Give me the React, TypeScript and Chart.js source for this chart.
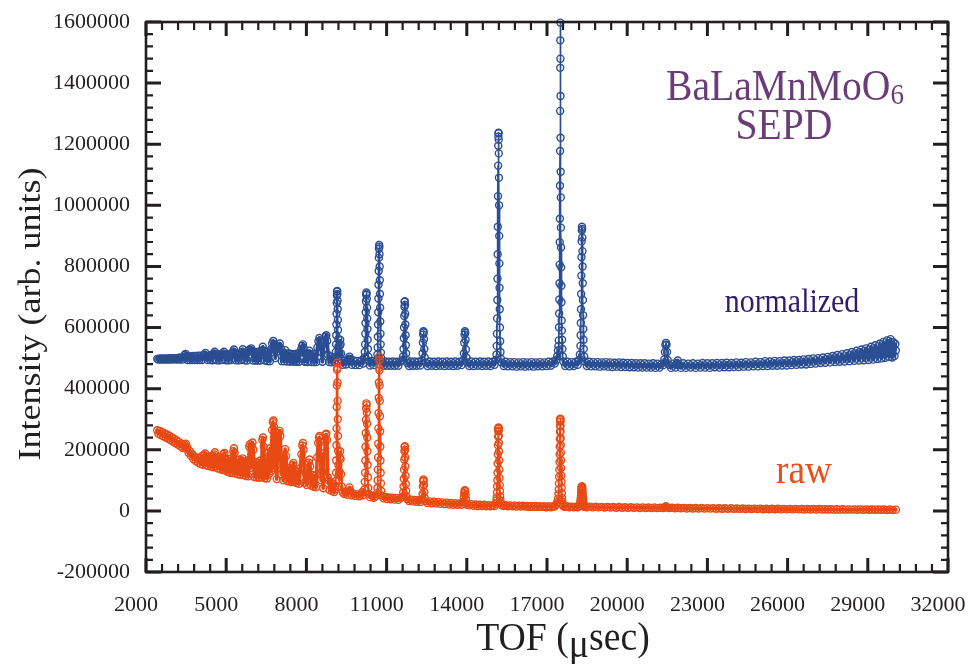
import { useEffect, useRef } from "react";
import { Chart, registerables } from "chart.js";

Chart.register(...registerables);

// Axis ticks
const tofTicks = [2000, 5000, 8000, 11000, 14000, 17000, 20000, 23000, 26000, 29000, 32000];
const intensityTicks = [-200000, 0, 200000, 400000, 600000, 800000, 1000000, 1200000, 1400000, 1600000];
const TOF_MINOR_STEP = 600;
const INTENSITY_MINOR_STEP = 40000;

// Text
const sampleFormula = "BaLaMnMoO";
const sampleSubscript = "6";
const instrumentName = "SEPD";
const normalizedLabel = "normalized";
const rawLabel = "raw";
const xTitleParts = ["TOF (", "\u03bc", "sec)"];
const yTitle = "Intensity (arb. units)";

// Normalized spectrum, [TOF (usec), intensity]
const normalizedLowTof: [number, number][] = [
  [2420, 497000], [2465, 495000], [2510, 499000], [2555, 495000], [2600, 499000], [2645, 495000], [2690, 499000], [2735, 495000],
  [2780, 499000], [2825, 495000], [2870, 500000], [2915, 495000], [2960, 500000], [3005, 495000], [3050, 500000], [3095, 496000],
  [3140, 500000], [3185, 495000], [3230, 501000], [3275, 495000], [3320, 502000], [3365, 495000], [3410, 504000], [3445, 510000],
  [3480, 514000], [3515, 506000], [3550, 494000], [3595, 505000], [3640, 494000], [3685, 506000], [3730, 494000], [3775, 507000],
  [3820, 494000], [3865, 507000], [3910, 494000], [3955, 508000], [4000, 494000], [4045, 508000], [4090, 494000], [4135, 509000],
  [4180, 512000], [4225, 517000], [4265, 506000], [4310, 494000], [4355, 509000], [4400, 494000], [4445, 510000], [4490, 493000],
  [4535, 515000], [4570, 521000], [4605, 512000], [4650, 493000], [4695, 512000], [4740, 493000], [4785, 512000], [4830, 494000],
  [4875, 515000], [4915, 521000], [4950, 512000], [4995, 493000], [5040, 512000], [5085, 493000], [5130, 513000], [5175, 494000],
  [5220, 516000], [5260, 522000], [5290, 528000], [5320, 516000], [5365, 493000], [5410, 513000], [5455, 493000], [5500, 514000],
  [5545, 494000], [5590, 520000], [5620, 529000], [5650, 518000], [5695, 493000], [5740, 518000], [5785, 492000], [5830, 520000],
  [5870, 528000], [5905, 526000], [5935, 532000], [5970, 524000], [6010, 492000], [6055, 520000], [6100, 492000], [6145, 520000],
  [6190, 492000], [6235, 521000], [6280, 492000], [6320, 525000], [6370, 537000], [6410, 524000], [6455, 492000], [6500, 520000],
  [6545, 490000], [6590, 522000], [6635, 490000], [6680, 530000], [6720, 548000], [6760, 556000], [6795, 546000], [6835, 500000],
  [6880, 520000], [6925, 530000], [6965, 540000], [7005, 548000], [7040, 532000], [7080, 490000], [7125, 518000], [7165, 490000],
  [7205, 526000], [7245, 512000], [7290, 489000], [7335, 516000], [7380, 489000], [7425, 514000], [7465, 489000], [7500, 513000],
  [7540, 489000], [7585, 514000], [7630, 488000], [7675, 515000], [7720, 488000], [7765, 518000], [7805, 530000], [7840, 540000],
  [7870, 545000], [7900, 532000], [7940, 488000], [7985, 512000], [8030, 487000], [8075, 515000], [8110, 524000], [8145, 512000],
  [8190, 487000], [8235, 513000], [8280, 487000], [8325, 514000], [8370, 487000], [8410, 535000], [8450, 555000], [8485, 566000],
  [8520, 558000], [8560, 520000], [8600, 488000], [8640, 530000], [8680, 555000], [8715, 570000], [8745, 575000], [8775, 556000],
  [8815, 510000], [8855, 487000], [8900, 505000], [8945, 486000], [8990, 500000], [9040, 487000],
];

const normalizedMidTof: [number, number][] = [
  [9070, 492000], [9090, 505000], [9100, 520000], [9108, 545000], [9115, 575000], [9122, 610000], [9128, 645000], [9134, 680000],
  [9140, 705000], [9146, 718000], [9152, 720000], [9158, 710000], [9164, 688000], [9170, 660000], [9176, 625000], [9182, 592000],
  [9190, 562000], [9198, 538000], [9208, 520000], [9220, 506000], [9235, 515000], [9250, 540000], [9265, 560000], [9280, 545000],
  [9295, 515000], [9320, 492000],
  [9360, 478000], [9420, 492000], [9480, 479000], [9540, 493000], [9580, 498000], [9610, 505000], [9640, 497000], [9700, 478000],
  [9770, 492000], [9840, 477000], [9910, 491000], [9980, 477000], [10040, 490000], [10080, 494000], [10120, 482000], [10170, 502000],
  [10185, 520000], [10195, 545000], [10205, 580000], [10213, 615000], [10220, 650000], [10228, 685000], [10236, 707000], [10244, 715000],
  [10252, 711000], [10260, 694000], [10268, 665000], [10276, 630000], [10284, 595000], [10292, 560000], [10302, 530000], [10315, 505000],
  [10335, 490000],
  [10380, 476000], [10450, 491000], [10520, 477000], [10590, 490000], [10640, 496000],
  [10655, 512000], [10665, 535000], [10673, 570000], [10680, 610000], [10686, 650000], [10692, 695000], [10698, 740000], [10704, 785000],
  [10710, 828000], [10716, 858000], [10722, 870000], [10728, 864000], [10734, 840000], [10740, 800000], [10746, 755000], [10752, 710000],
  [10758, 665000], [10764, 620000], [10771, 580000], [10779, 545000], [10788, 518000], [10800, 500000], [10820, 487000],
  [10880, 475000], [10950, 489000], [11020, 475000], [11090, 488000], [11160, 475000], [11230, 489000], [11300, 475000], [11370, 488000],
  [11440, 475000], [11510, 489000], [11580, 492000], [11620, 506000],
  [11635, 530000], [11645, 565000], [11653, 600000], [11661, 638000], [11668, 668000], [11675, 684000], [11682, 686000], [11689, 674000],
  [11696, 645000], [11703, 610000], [11711, 575000], [11720, 542000], [11730, 515000], [11745, 495000], [11770, 484000],
  [11840, 474000], [11910, 489000], [11980, 475000], [12050, 489000], [12120, 475000], [12190, 488000], [12260, 476000], [12320, 492000],
  [12345, 515000],
  [12358, 550000], [12368, 577000], [12378, 588000], [12388, 584000], [12398, 562000], [12410, 530000], [12425, 502000], [12450, 486000],
  [12530, 474000], [12610, 489000], [12690, 475000], [12770, 488000], [12850, 474000], [12930, 489000], [13010, 475000], [13090, 488000],
  [13170, 474000], [13250, 489000], [13330, 475000], [13410, 488000], [13490, 474000], [13570, 489000], [13650, 475000], [13730, 488000],
  [13800, 477000], [13860, 493000], [13890, 515000],
  [13905, 550000], [13918, 577000], [13930, 588000], [13942, 583000], [13955, 560000], [13968, 528000], [13985, 502000], [14010, 486000],
  [14090, 474000], [14170, 489000], [14250, 474000], [14330, 488000], [14410, 475000], [14490, 489000], [14570, 474000], [14650, 488000],
  [14730, 475000], [14810, 489000], [14890, 474000], [14970, 488000], [15040, 478000], [15090, 494000], [15110, 512000],
  [15120, 540000], [15128, 580000], [15135, 630000], [15142, 690000], [15148, 760000], [15154, 840000], [15160, 930000], [15166, 1030000],
  [15172, 1130000], [15177, 1195000], [15181, 1225000], [15185, 1238000], [15189, 1236000], [15193, 1215000], [15197, 1170000], [15202, 1090000],
  [15207, 1000000], [15213, 900000], [15219, 810000], [15225, 730000], [15232, 660000], [15240, 600000], [15249, 555000], [15260, 520000],
  [15275, 498000], [15300, 486000],
  [15380, 474000], [15460, 488000], [15540, 473000], [15620, 487000], [15700, 473000], [15780, 487000], [15860, 472000], [15940, 486000],
  [16020, 473000], [16100, 487000], [16180, 472000], [16260, 486000], [16340, 473000], [16420, 487000], [16500, 472000], [16580, 486000],
  [16660, 473000], [16740, 487000], [16820, 473000], [16900, 486000], [16980, 474000], [17060, 488000], [17140, 475000], [17220, 489000],
  [17290, 482000], [17340, 493000], [17380, 506000], [17410, 525000],
  [17430, 540000], [17440, 558000], [17448, 601000], [17455, 646000], [17461, 692000], [17467, 745000], [17472, 806000], [17477, 879000],
  [17481, 956000], [17485, 1064000], [17489, 1178000], [17492, 1309000], [17495, 1450000], [17497, 1540000], [17499, 1598000], [17502, 1480000],
  [17505, 1358000], [17508, 1221000], [17512, 1110000], [17516, 1026000], [17520, 927000], [17525, 862000], [17530, 797000], [17536, 737000],
  [17542, 683000], [17549, 623000], [17556, 590000], [17565, 560000], [17576, 530000], [17590, 505000], [17610, 489000],
  [17680, 474000], [17760, 488000], [17840, 473000], [17920, 487000], [18000, 474000], [18080, 488000], [18150, 478000], [18200, 493000],
  [18230, 512000], [18250, 540000],
  [18258, 575000], [18265, 615000], [18272, 660000], [18278, 710000], [18284, 770000], [18290, 830000], [18296, 882000], [18302, 918000],
  [18308, 930000], [18314, 923000], [18320, 895000], [18326, 850000], [18332, 800000], [18338, 745000], [18344, 690000], [18351, 640000],
  [18358, 595000], [18366, 560000], [18376, 530000], [18390, 505000], [18410, 489000],
];

const normalizedHighTof: [number, number][] = [
  [18490, 474000], [18570, 488000], [18650, 473000], [18730, 487000], [18810, 473000], [18890, 487000], [18970, 472000], [19050, 486000],
  [19130, 473000], [19210, 487000], [19290, 472000], [19370, 486000], [19450, 471000], [19530, 485000], [19610, 472000], [19690, 486000],
  [19770, 471000], [19850, 485000], [19930, 471000], [20010, 484000], [20090, 470000], [20170, 484000], [20250, 470000], [20330, 483000],
  [20410, 469000], [20490, 483000], [20570, 469000], [20650, 483000], [20730, 469000], [20810, 482000], [20890, 469000], [20970, 483000],
  [21050, 468000], [21130, 482000], [21210, 469000], [21290, 482000], [21350, 477000], [21390, 496000], [21410, 520000], [21430, 543000],
  [21450, 550000], [21470, 544000], [21490, 520000], [21515, 494000], [21560, 478000], [21640, 468000], [21720, 482000], [21800, 469000],
  [21860, 484000], [21890, 492000], [21930, 478000],
  [22010, 468000], [22100, 483000], [22190, 468000], [22280, 482000], [22370, 469000], [22460, 483000], [22550, 468000], [22640, 482000],
  [22730, 469000], [22820, 484000], [22910, 469000], [23000, 483000], [23090, 468000], [23180, 483000], [23270, 470000], [23360, 484000],
  [23450, 469000], [23540, 484000], [23630, 470000], [23720, 485000], [23810, 470000], [23900, 484000], [23990, 471000], [24080, 486000],
  [24170, 471000], [24260, 485000], [24350, 472000], [24440, 487000], [24530, 472000], [24620, 486000], [24710, 473000], [24800, 488000],
  [24890, 473000], [24980, 487000], [25070, 474000], [25160, 490000], [25250, 474000], [25340, 489000], [25430, 475000], [25520, 491000],
  [25610, 475000], [25700, 490000], [25790, 476000], [25880, 492000], [25970, 476000], [26060, 492000], [26150, 477000], [26240, 494000],
  [26330, 478000], [26420, 494000], [26510, 479000], [26600, 496000], [26690, 479000], [26780, 497000], [26870, 481000], [26960, 499000],
  [27050, 482000], [27140, 500000], [27230, 484000], [27320, 502000], [27410, 485000], [27500, 504000], [27590, 486000], [27680, 507000],
  [27770, 487000], [27860, 510000], [27950, 488000], [28040, 513000], [28130, 489000], [28220, 516000], [28310, 490000], [28400, 520000],
  [28490, 491000], [28580, 524000], [28670, 492000], [28760, 528000], [28850, 493000], [28940, 532000], [29030, 494000], [29120, 537000],
  [29200, 495000], [29280, 542000], [29360, 497000], [29440, 547000], [29510, 499000], [29580, 553000], [29650, 501000], [29720, 558000],
  [29790, 504000], [29850, 562000], [29910, 502000], [29960, 552000], [30000, 507000], [30030, 546000], [30050, 525000],
];

// Raw spectrum, [TOF (usec), counts]
const rawLowTof: [number, number][] = [
  [2420, 264000], [2465, 252000], [2510, 262000], [2555, 248000], [2600, 258000], [2645, 244000], [2690, 254000], [2735, 240000],
  [2780, 250000], [2825, 236000], [2870, 246000], [2915, 232000], [2960, 241000], [3005, 227000], [3050, 236000], [3095, 222000],
  [3140, 231000], [3185, 217000], [3230, 226000], [3275, 212000], [3320, 220000], [3365, 206000], [3410, 214000], [3440, 218000],
  [3465, 207000], [3490, 220000], [3515, 204000], [3545, 208000], [3590, 190000], [3635, 196000], [3680, 180000], [3725, 186000],
  [3770, 170000], [3815, 178000], [3860, 163000], [3905, 174000], [3950, 158000], [3995, 172000],
  [4040, 153000], [4085, 180000], [4130, 151000], [4175, 182000], [4210, 188000], [4250, 150000], [4295, 176000], [4340, 147000],
  [4385, 178000], [4430, 145000], [4475, 180000], [4520, 143000], [4550, 185000], [4575, 192000], [4600, 146000], [4645, 175000],
  [4690, 139000], [4735, 176000], [4780, 136000], [4825, 172000], [4870, 134000], [4905, 186000], [4930, 190000], [4960, 133000],
  [5005, 168000], [5050, 128000], [5095, 170000], [5140, 125000], [5185, 172000], [5230, 124000], [5265, 195000], [5290, 205000],
  [5315, 190000], [5350, 122000], [5395, 166000], [5440, 120000], [5485, 168000], [5530, 118000], [5575, 165000], [5615, 172000],
  [5650, 117000], [5695, 160000], [5740, 114000], [5785, 165000], [5830, 113000], [5860, 210000], [5885, 218000], [5915, 140000],
  [5955, 212000], [5985, 224000], [6015, 200000], [6050, 111000], [6095, 160000], [6140, 109000], [6185, 158000], [6230, 108000],
  [6275, 165000], [6320, 110000], [6350, 232000], [6375, 240000], [6405, 210000], [6440, 107000], [6485, 160000], [6530, 106000],
  [6565, 190000], [6600, 120000], [6640, 205000], [6680, 130000], [6715, 265000], [6745, 290000], [6765, 296000], [6790, 275000],
  [6820, 140000], [6855, 200000], [6890, 104000], [6930, 230000], [6965, 255000], [6995, 262000], [7025, 245000], [7055, 120000],
  [7090, 175000], [7130, 100000], [7170, 170000], [7205, 202000], [7240, 180000], [7280, 98000], [7325, 140000], [7370, 96000],
  [7415, 135000], [7460, 94000], [7490, 150000], [7515, 157000], [7545, 95000], [7590, 130000], [7635, 91000], [7680, 128000],
  [7725, 89000], [7770, 140000], [7810, 185000], [7845, 214000], [7870, 222000], [7895, 200000], [7925, 92000], [7970, 125000],
  [8015, 85000], [8060, 135000], [8095, 158000], [8115, 168000], [8140, 145000], [8180, 82000], [8225, 118000], [8270, 79000],
  [8315, 115000], [8360, 77000], [8405, 175000], [8440, 222000], [8470, 240000], [8495, 245000], [8520, 225000], [8550, 100000],
  [8590, 130000], [8630, 74000], [8665, 190000], [8695, 232000], [8725, 250000], [8745, 253000], [8770, 232000], [8800, 110000],
  [8835, 100000], [8870, 68000], [8915, 95000], [8960, 65000], [9000, 88000], [9040, 62000],
];

const rawMidTof: [number, number][] = [
  [9070, 70000], [9090, 82000], [9100, 98000], [9108, 125000], [9115, 165000], [9122, 215000], [9128, 270000], [9134, 340000],
  [9140, 410000], [9146, 462000], [9152, 485000], [9158, 468000], [9164, 420000], [9170, 360000], [9176, 300000], [9182, 245000],
  [9190, 195000], [9198, 150000], [9208, 118000], [9220, 100000], [9235, 130000], [9250, 175000], [9265, 195000], [9280, 170000],
  [9295, 120000], [9320, 80000],
  [9360, 60000], [9420, 55000], [9480, 60000], [9540, 53000], [9580, 64000], [9610, 77000], [9640, 66000], [9700, 51000],
  [9770, 56000], [9840, 49000], [9910, 54000], [9980, 48000], [10040, 54000], [10080, 61000], [10120, 51000], [10170, 70000],
  [10185, 95000], [10195, 125000], [10205, 165000], [10213, 210000], [10220, 255000], [10228, 298000], [10236, 335000], [10244, 352000],
  [10252, 346000], [10260, 322000], [10268, 285000], [10276, 240000], [10284, 195000], [10292, 150000], [10302, 110000], [10315, 75000],
  [10335, 55000],
  [10380, 45000], [10450, 50000], [10520, 43000], [10590, 48000], [10640, 58000],
  [10655, 75000], [10665, 100000], [10673, 135000], [10680, 175000], [10686, 220000], [10692, 270000], [10698, 320000], [10704, 370000],
  [10710, 420000], [10716, 468000], [10722, 505000], [10728, 494000], [10734, 460000], [10740, 410000], [10746, 360000], [10752, 310000],
  [10758, 260000], [10764, 210000], [10771, 165000], [10779, 125000], [10788, 90000], [10800, 65000], [10820, 50000],
  [10880, 41000], [10950, 46000], [11020, 39000], [11090, 44000], [11160, 38000], [11230, 43000], [11300, 37000], [11370, 42000],
  [11440, 36000], [11510, 41000], [11580, 45000], [11620, 60000],
  [11635, 80000], [11645, 105000], [11653, 135000], [11661, 168000], [11668, 195000], [11675, 209000], [11682, 212000], [11689, 200000],
  [11696, 175000], [11703, 145000], [11711, 115000], [11720, 88000], [11730, 65000], [11745, 48000], [11770, 38000],
  [11840, 32000], [11910, 37000], [11980, 31000], [12050, 36000], [12120, 30000], [12190, 35000], [12260, 29000], [12320, 38000],
  [12345, 55000],
  [12358, 80000], [12368, 97000], [12378, 103000], [12388, 99000], [12398, 85000], [12410, 62000], [12425, 42000], [12450, 32000],
  [12530, 26000], [12610, 31000], [12690, 25000], [12770, 30000], [12850, 24000], [12930, 29000], [13010, 23000], [13090, 28000],
  [13170, 22000], [13250, 27000], [13330, 21000], [13410, 26000], [13490, 20000], [13570, 25000], [13650, 20000], [13730, 24000],
  [13800, 20000], [13860, 30000], [13890, 45000],
  [13905, 58000], [13918, 66000], [13930, 68000], [13942, 64000], [13955, 52000], [13968, 38000], [13985, 25000], [14010, 20000],
  [14090, 18000], [14170, 22000], [14250, 17000], [14330, 21000], [14410, 16000], [14490, 20000], [14570, 16000], [14650, 20000],
  [14730, 15000], [14810, 19000], [14890, 15000], [14970, 19000], [15040, 16000], [15090, 24000], [15110, 35000],
  [15120, 45000], [15128, 60000], [15135, 80000], [15142, 100000], [15148, 125000], [15154, 155000], [15160, 185000], [15166, 215000],
  [15172, 243000], [15177, 260000], [15181, 269000], [15185, 273000], [15189, 271000], [15193, 262000], [15197, 246000], [15202, 222000],
  [15207, 195000], [15213, 165000], [15219, 135000], [15225, 108000], [15232, 85000], [15240, 65000], [15249, 48000], [15260, 34000],
  [15275, 24000], [15300, 18000],
  [15380, 16000], [15460, 19000], [15540, 15000], [15620, 18000], [15700, 15000], [15780, 18000], [15860, 14000], [15940, 17000],
  [16020, 14000], [16100, 17000], [16180, 14000], [16260, 16000], [16340, 13000], [16420, 16000], [16500, 13000], [16580, 16000],
  [16660, 13000], [16740, 15000], [16820, 13000], [16900, 15000], [16980, 12000], [17060, 15000], [17140, 12000], [17220, 15000],
  [17290, 14000], [17340, 20000], [17380, 28000], [17410, 40000],
  [17430, 55000], [17440, 70000], [17448, 90000], [17455, 112000], [17461, 135000], [17467, 160000], [17472, 185000], [17477, 210000],
  [17481, 235000], [17485, 258000], [17489, 278000], [17492, 292000], [17495, 300000], [17497, 302000], [17499, 300000], [17502, 292000],
  [17505, 278000], [17508, 260000], [17512, 238000], [17516, 215000], [17520, 190000], [17525, 165000], [17530, 140000], [17536, 115000],
  [17542, 95000], [17549, 75000], [17556, 58000], [17565, 42000], [17576, 30000], [17590, 20000], [17610, 15000],
  [17680, 13000], [17760, 15000], [17840, 12000], [17920, 14000], [18000, 12000], [18080, 14000], [18150, 12000], [18200, 16000],
  [18230, 22000], [18250, 30000],
  [18258, 36000], [18265, 43000], [18272, 51000], [18278, 60000], [18284, 68000], [18290, 74000], [18296, 78000], [18302, 80000],
  [18308, 80000], [18314, 78000], [18320, 74000], [18326, 68000], [18332, 60000], [18338, 52000], [18344, 44000], [18351, 37000],
  [18358, 30000], [18366, 24000], [18376, 19000], [18390, 15000], [18410, 13000],
];

const rawHighTof: [number, number][] = [
  [18490, 12000], [18600, 14000], [18710, 11500], [18820, 13500], [18930, 11500], [19040, 13000], [19150, 11000], [19260, 13000],
  [19370, 11000], [19480, 12500], [19590, 10500], [19700, 12500], [19810, 10500], [19920, 12000], [20030, 10000], [20140, 12000],
  [20250, 10000], [20360, 11500], [20470, 9500], [20580, 11500], [20690, 9500], [20800, 11000], [20910, 9000], [21020, 11000],
  [21130, 9000], [21240, 10500], [21350, 9000], [21400, 12000], [21450, 15000], [21500, 11000], [21570, 9000], [21680, 10500],
  [21790, 8500], [21900, 10500], [22010, 8500], [22120, 10000], [22230, 8000], [22340, 10000], [22450, 8000], [22560, 9500],
  [22670, 7500], [22780, 9500], [22890, 7500], [23000, 9000], [23110, 7500], [23220, 9000], [23330, 7000], [23440, 8500],
  [23550, 7000], [23660, 8500], [23770, 6500], [23880, 8500], [23990, 6500], [24100, 8000], [24210, 6500], [24320, 8000],
  [24430, 6000], [24540, 7500], [24650, 6000], [24760, 7500], [24870, 6000], [24980, 7500], [25090, 5500], [25200, 7000],
  [25310, 5500], [25420, 7000], [25530, 5500], [25640, 7000], [25750, 5000], [25860, 6500], [25970, 5000], [26080, 6500],
  [26190, 5000], [26300, 6500], [26410, 5000], [26520, 6000], [26630, 4500], [26740, 6000], [26850, 4500], [26960, 6000],
  [27070, 4500], [27180, 6000], [27290, 4500], [27400, 5500], [27510, 4500], [27620, 5500], [27730, 4000], [27840, 5500],
  [27950, 4000], [28060, 5500], [28170, 4000], [28280, 5000], [28390, 4000], [28500, 5000], [28610, 3500], [28720, 5000],
  [28830, 3500], [28940, 5000], [29050, 3500], [29160, 4500], [29270, 3500], [29380, 4500], [29490, 3500], [29600, 4500],
  [29710, 3000], [29820, 4500], [29930, 3000], [30050, 4000],
];

const SERIF = '"Liberation Serif", "Times New Roman", serif';
const AXIS_COLOR = "#231f20";
const NORMALIZED_COLOR = "#2b4e92";
const RAW_COLOR = "#e84a15";
const FORMULA_COLOR = "#6a3c78";
const NORMALIZED_TEXT_COLOR = "#2e1c6c";
const RAW_TEXT_COLOR = "#e8501a";

const toPoints = (rows: [number, number][]) => rows.map(([x, y]) => ({ x, y }));

// Background stretches (points more than a pixel apart) get a heavier stroke so the
// noisy baseline reads as a solid band; the finely sampled Bragg peaks keep a thin line.
const segmentWidth = (c: any) => (Math.abs(c.p1.x - c.p0.x) >= 0.8 ? 3.6 : 1.7);

function drawSqueezed(
  ctx: CanvasRenderingContext2D,
  text: string,
  x: number,
  y: number,
  font: string,
  color: string,
  squeeze: number
) {
  ctx.save();
  ctx.translate(x, y);
  ctx.scale(squeeze, 1);
  ctx.font = font;
  ctx.fillStyle = color;
  ctx.textAlign = "left";
  ctx.textBaseline = "alphabetic";
  ctx.fillText(text, 0, 0);
  ctx.restore();
}

function measure(ctx: CanvasRenderingContext2D, text: string, font: string) {
  ctx.font = font;
  return ctx.measureText(text).width;
}

// Box frame with inward ticks on all four sides
const frameAndTicks = {
  id: "frameAndTicks",
  afterDatasetsDraw(chart: any) {
    const { ctx, chartArea } = chart;
    const { left, right, top, bottom } = chartArea;
    const xs = chart.scales.x;
    const ys = chart.scales.y;
    ctx.save();
    ctx.strokeStyle = AXIS_COLOR;
    ctx.lineCap = "butt";
    const nx = Math.round((xs.max - xs.min) / TOF_MINOR_STEP);
    for (let i = 0; i <= nx; i++) {
      const v = xs.min + i * TOF_MINOR_STEP;
      const major = tofTicks.includes(v);
      const len = major ? 14 : 8;
      ctx.lineWidth = major ? 3 : 2.2;
      const px = xs.getPixelForValue(v);
      ctx.beginPath();
      ctx.moveTo(px, bottom);
      ctx.lineTo(px, bottom - len);
      ctx.moveTo(px, top);
      ctx.lineTo(px, top + len);
      ctx.stroke();
    }
    const ny = Math.round((ys.max - ys.min) / INTENSITY_MINOR_STEP);
    for (let i = 0; i <= ny; i++) {
      const v = ys.min + i * INTENSITY_MINOR_STEP;
      const major = intensityTicks.includes(v);
      const len = major ? 15 : 7;
      ctx.lineWidth = major ? 3 : 2.2;
      const py = ys.getPixelForValue(v);
      ctx.beginPath();
      ctx.moveTo(left, py);
      ctx.lineTo(left + len, py);
      ctx.moveTo(right, py);
      ctx.lineTo(right - len, py);
      ctx.stroke();
    }
    ctx.lineWidth = 2.6;
    ctx.strokeRect(left, top, right - left, bottom - top);
    ctx.restore();
  },
};

// Axis titles and in-plot annotations
const chartText = {
  id: "chartText",
  afterDraw(chart: any) {
    const ctx: CanvasRenderingContext2D = chart.ctx;
    ctx.save();

    // x title with lowered mu
    const xFont = `41px ${SERIF}`;
    const xSq = 0.92;
    const w0 = measure(ctx, xTitleParts[0], xFont) * xSq;
    const w1 = measure(ctx, xTitleParts[1], xFont) * xSq;
    const w2 = measure(ctx, xTitleParts[2], xFont) * xSq;
    let xs = 563 - (w0 + w1 + w2) / 2;
    drawSqueezed(ctx, xTitleParts[0], xs, 650, xFont, AXIS_COLOR, xSq);
    xs += w0;
    drawSqueezed(ctx, xTitleParts[1], xs, 657, xFont, AXIS_COLOR, xSq);
    xs += w1;
    drawSqueezed(ctx, xTitleParts[2], xs, 650, xFont, AXIS_COLOR, xSq);

    // y title
    ctx.save();
    ctx.translate(40, 314);
    ctx.rotate(-Math.PI / 2);
    ctx.scale(1, 0.88);
    ctx.font = `36px ${SERIF}`;
    ctx.fillStyle = AXIS_COLOR;
    ctx.textAlign = "center";
    ctx.textBaseline = "alphabetic";
    ctx.fillText(yTitle, 0, 0);
    ctx.restore();

    // sample formula with subscript
    const fFont = `44px ${SERIF}`;
    const sFont = `30px ${SERIF}`;
    const fSq = 0.9;
    const fw = measure(ctx, sampleFormula, fFont) * fSq;
    const sw = measure(ctx, sampleSubscript, sFont) * fSq;
    const fx = 785 - (fw + sw) / 2;
    drawSqueezed(ctx, sampleFormula, fx, 100, fFont, FORMULA_COLOR, fSq);
    drawSqueezed(ctx, sampleSubscript, fx + fw, 104, sFont, FORMULA_COLOR, fSq);

    const iw = measure(ctx, instrumentName, fFont) * fSq;
    drawSqueezed(ctx, instrumentName, 784 - iw / 2, 139, fFont, FORMULA_COLOR, fSq);

    const nFont = `34px ${SERIF}`;
    const nw = measure(ctx, normalizedLabel, nFont) * 0.88;
    drawSqueezed(ctx, normalizedLabel, 792 - nw / 2, 312, nFont, NORMALIZED_TEXT_COLOR, 0.88);

    const rFont = `43px ${SERIF}`;
    const rw = measure(ctx, rawLabel, rFont) * 0.87;
    drawSqueezed(ctx, rawLabel, 804 - rw / 2, 483, rFont, RAW_TEXT_COLOR, 0.87);

    ctx.restore();
  },
};

export default function App() {
  const canvasRef = useRef<HTMLCanvasElement>(null);

  useEffect(() => {
    const canvas = canvasRef.current;
    if (!canvas) return;

    const normalizedData = toPoints([...normalizedLowTof, ...normalizedMidTof, ...normalizedHighTof]);
    const rawData = toPoints([...rawLowTof, ...rawMidTof, ...rawHighTof]);

    const tickFont = { family: SERIF, size: 22 };

    const seriesStyle = (color: string) => ({
      showLine: true,
      borderColor: color,
      borderWidth: 1.7,
      borderJoinStyle: "round",
      borderCapStyle: "round",
      pointRadius: 3.5,
      pointBorderWidth: 1.4,
      pointBorderColor: color,
      pointBackgroundColor: "rgba(0,0,0,0)",
      tension: 0,
      clip: false,
      segment: { borderWidth: segmentWidth },
    });

    const chart = new Chart(canvas, {
      type: "scatter",
      data: {
        datasets: [
          { label: rawLabel, data: rawData, order: 0, ...seriesStyle(RAW_COLOR) },
          { label: normalizedLabel, data: normalizedData, order: 1, ...seriesStyle(NORMALIZED_COLOR) },
        ],
      },
      options: {
        responsive: false,
        animation: false,
        events: [],
        layout: { padding: { left: 0, top: 22, right: 21, bottom: 0 } },
        plugins: {
          legend: { display: false },
          tooltip: { enabled: false },
        },
        scales: {
          x: {
            type: "linear",
            min: 2000,
            max: 32000,
            afterBuildTicks: (scale: any) => {
              scale.ticks = tofTicks.map((value) => ({ value }));
            },
            afterFit: (scale: any) => {
              scale.height = 92;
              scale.paddingLeft = 0;
              scale.paddingRight = 0;
            },
            grid: { display: false, drawTicks: false },
            border: { display: false },
            ticks: {
              font: tickFont,
              color: AXIS_COLOR,
              padding: 20,
              labelOffset: -10,
              maxRotation: 0,
              autoSkip: false,
              callback: (v: any) => String(v),
            },
          },
          y: {
            type: "linear",
            min: -200000,
            max: 1600000,
            afterBuildTicks: (scale: any) => {
              scale.ticks = intensityTicks.map((value) => ({ value }));
            },
            afterFit: (scale: any) => {
              scale.width = 146;
              scale.paddingTop = 0;
              scale.paddingBottom = 0;
            },
            grid: { display: false, drawTicks: false },
            border: { display: false },
            ticks: {
              font: tickFont,
              color: AXIS_COLOR,
              padding: 16,
              autoSkip: false,
              callback: (v: any) => String(v),
            },
          },
        },
      },
      plugins: [frameAndTicks, chartText],
    } as any);

    return () => chart.destroy();
  }, []);

  return (
    <div style={{ position: "absolute", left: 0, top: 0, width: 969, height: 664, background: "#fff" }}>
      <canvas ref={canvasRef} width={969} height={664} style={{ display: "block" }} />
    </div>
  );
}
